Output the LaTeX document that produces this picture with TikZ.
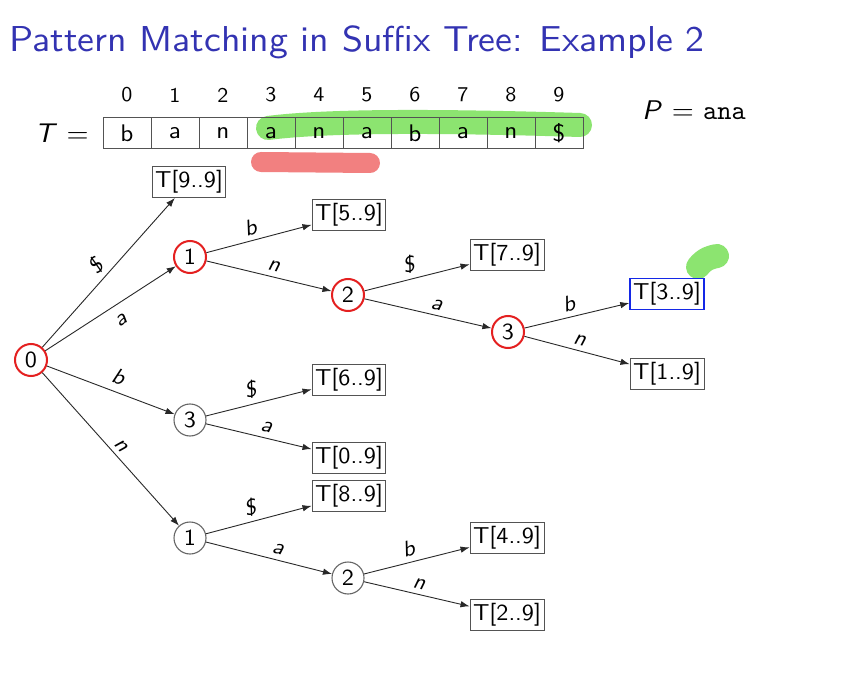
\documentclass[tikz,border=0pt]{standalone}
\usepackage{fontspec}
\setsansfont{lmsans10-regular.otf}[ItalicFont=lmsans10-oblique.otf, FakeStretch=1.05]
\setmonofont{lmmono10-regular.otf}
\usetikzlibrary{arrows.meta}
\definecolor{titleblue}{RGB}{51,51,178}
\definecolor{hlgreen}{RGB}{140,228,112}
\definecolor{hlred}{RGB}{242,128,128}
\definecolor{nodered}{RGB}{228,32,32}
\definecolor{boxblue}{RGB}{20,40,230}
\definecolor{edgegray}{RGB}{40,40,40}
\newcommand{\fs}[1]{\fontsize{#1}{#1}\selectfont}
\tikzset{
  inode/.style={circle, draw=gray!80!black, line width=1.1pt, minimum size=32pt, inner sep=0pt, font=\sffamily\fs{23}},
  hot/.style={draw=nodered, line width=2pt},
  leaf/.style={rectangle, draw=edgegray!80, line width=1pt, inner sep=3pt, minimum height=31pt, font=\sffamily\fs{23}},
  edge/.style={draw=edgegray, line width=0.9pt, -{Latex[length=9pt,width=6.5pt]}},
  lbl/.style={font=\sffamily\itshape\fs{22}, sloped, inner sep=5pt},
  cell/.style={rectangle, draw=edgegray!80, line width=1pt, minimum width=48pt, minimum height=31pt, inner sep=0pt, font=\sffamily\fs{24}},
  idx/.style={font=\sffamily\fs{21}},
  hlstroke/.style={line cap=round, line join=round},
}
\begin{document}
\begin{tikzpicture}[x=1pt,y=-1pt]
\useasboundingbox (0,0) rectangle (845,684);
\fill[white] (0,0) rectangle (845,684);

% title
\node[anchor=base west, inner sep=0pt, text=titleblue, font=\sffamily\fs{36}] (title) at (9,52) {Pattern Matching in Suffix Tree: Example 2};

% highlighter strokes under the text row
\draw[hlstroke, hlgreen, line width=24pt] (268,128) .. controls (330,120) and (450,121) .. (580,125);
\draw[hlstroke, hlred, line width=20pt] (261,162) -- (370,163);
\draw[hlstroke, hlgreen, line width=24pt] (698,267) .. controls (705,258) and (712,257) .. (717,256);

% the text T
\node[anchor=east, inner sep=0pt, font=\sffamily\fs{27}] (Tlab) at (89,133) {\itshape T\/\upshape\ =};
\foreach \i/\c in {0/b,1/a,2/n,3/a,4/n,5/a,6/b,7/a,8/n,9/\$} {
  \node[cell] (c\i) at ({127+48*\i},133.5) {\c};
  \node[idx] (i\i) at ({127+48*\i},95) {\i};
}
\node[anchor=west, inner sep=0pt, font=\fs{27}] (P) at (642,110) {\sffamily\itshape P\/\upshape\ = \ttfamily ana};

% tree nodes
\node[inode, hot] (r0) at (31,360) {0};
\node[inode, hot] (a1) at (190,257) {1};
\node[inode, hot] (a2) at (348,295) {2};
\node[inode, hot] (a3) at (508,332) {3};
\node[inode] (b3) at (190,420) {3};
\node[inode] (n1) at (190,538) {1};
\node[inode] (n2) at (348,578) {2};

\node[leaf] (l9) at (189,182) {T[9..9]};
\node[leaf] (l5) at (349,215) {T[5..9]};
\node[leaf] (l7) at (507,255) {T[7..9]};
\node[leaf, draw=boxblue, line width=1.5pt] (l3) at (667,294) {T[3..9]};
\node[leaf] (l1) at (667,374) {T[1..9]};
\node[leaf] (l6) at (349,380) {T[6..9]};
\node[leaf] (l0) at (349,458) {T[0..9]};
\node[leaf] (l8) at (349,496) {T[8..9]};
\node[leaf] (l4) at (507,538) {T[4..9]};
\node[leaf] (l2) at (507,615) {T[2..9]};

% edges with their labels
\draw[edge] (r0) -- node[lbl, above, pos=0.48] {\$} (l9);
\draw[edge] (r0) -- node[lbl, below=5pt, pos=0.52] {a} (a1);
\draw[edge] (r0) -- node[lbl, above=2pt, pos=0.52] {b} (b3);
\draw[edge] (r0) -- node[lbl, above, pos=0.52] {n} (n1);

\draw[edge] (a1) -- node[lbl, above, pos=0.45] {b} (l5);
\draw[edge] (a1) -- node[lbl, above, pos=0.52] {n} (a2);
\draw[edge] (a2) -- node[lbl, above, pos=0.45] {\$} (l7);
\draw[edge] (a2) -- node[lbl, above, pos=0.55] {a} (a3);
\draw[edge] (a3) -- node[lbl, above, pos=0.45] {b} (l3);
\draw[edge] (a3) -- node[lbl, above, pos=0.5] {n} (l1);

\draw[edge] (b3) -- node[lbl, above, pos=0.45] {\$} (l6);
\draw[edge] (b3) -- node[lbl, above, pos=0.55] {a} (l0);
\draw[edge] (n1) -- node[lbl, above, pos=0.45] {\$} (l8);
\draw[edge] (n1) -- node[lbl, above, pos=0.55] {a} (n2);
\draw[edge] (n2) -- node[lbl, above, pos=0.45] {b} (l4);
\draw[edge] (n2) -- node[lbl, above, pos=0.5] {n} (l2);
\end{tikzpicture}
\end{document}
